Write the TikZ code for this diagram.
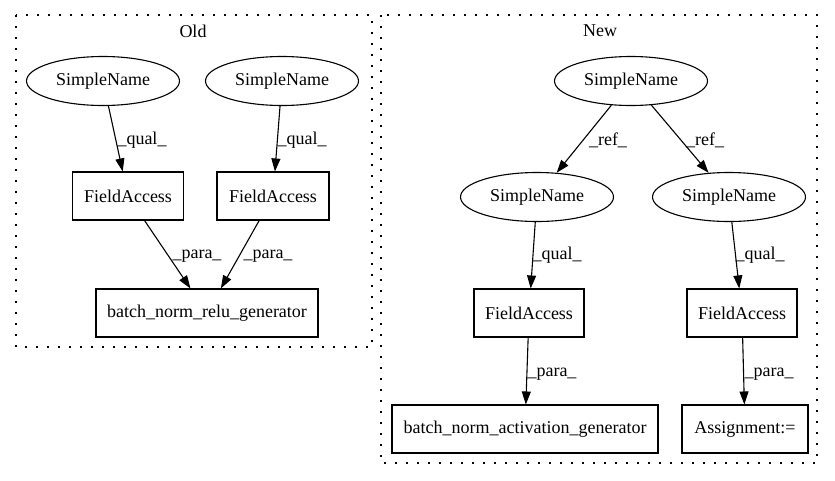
\documentclass[tikz,border=0pt]{standalone}
\usepackage{fontspec}
\setmainfont{Liberation Serif}
\usetikzlibrary{arrows.meta,shapes.geometric}
\begin{document}
\begin{tikzpicture}[x=1pt,y=-1pt,
  every node/.style={font=\fontsize{18}{21}\selectfont, inner sep=0pt},
  sname/.style={draw, ellipse, line width=1.1pt, minimum width=153pt, minimum height=49pt},
  box/.style={draw, rectangle, line width=1.1pt, minimum height=48pt},
  lbl/.style={},
  cluster/.style={line width=1.2pt, dash pattern=on 1.6pt off 9.4pt},
  link/.style={line width=1.1pt, -{Triangle[length=13pt,width=9pt]}}]
\useasboundingbox (0,0) rectangle (835,480);

% cluster frames
\draw[cluster] (16,15) rectangle (372,347);
\draw[cluster] (381,15) rectangle (817,463);
\node (oldtitle) at (193,31) {Old};
\node (newtitle) at (600,31) {New};

% Old
\node[sname] (osn1) at (103,81) {SimpleName};
\node[sname] (osn2) at (282,81) {SimpleName};
\node[box, minimum width=111pt] (ofa1) at (128,196) {FieldAccess};
\node[box, minimum width=112pt] (ofa2) at (273,196) {FieldAccess};
\node[box, minimum width=222pt] (obnr) at (207,313) {batch\_norm\_relu\_generator};

\draw[link] (osn1) -- (ofa1);
\draw[link] (osn2) -- (ofa2);
\draw[link] (ofa1) -- (obnr);
\draw[link] (ofa2) -- (obnr);
\node[lbl] (oq1) at (142,140) {\_qual\_};
\node[lbl] (oq2) at (302,140) {\_qual\_};
\node[lbl] (op1) at (197,256) {\_para\_};
\node[lbl] (op2) at (268,256) {\_para\_};

% New
\node[sname] (nsn0) at (631,81) {SimpleName};
\node[sname] (nsn1) at (537,197) {SimpleName};
\node[sname] (nsn2) at (729,197) {SimpleName};
\node[box, minimum width=110pt] (nfa1) at (529,313) {FieldAccess};
\node[box, minimum width=110pt] (nfa2) at (742,313) {FieldAccess};
\node[box, minimum width=266pt] (nbna) at (525,429) {batch\_norm\_activation\_generator};
\node[box, minimum width=126pt] (nasg) at (745,429) {Assignment:=};

\draw[link] (nsn0) -- (nsn1);
\draw[link] (nsn0) -- (nsn2);
\draw[link] (nsn1) -- (nfa1);
\draw[link] (nsn2) -- (nfa2);
\draw[link] (nfa1) -- (nbna);
\draw[link] (nfa2) -- (nasg);
\node[lbl] (nr1) at (608,140) {\_ref\_};
\node[lbl] (nr2) at (705,140) {\_ref\_};
\node[lbl] (nq1) at (557,255) {\_qual\_};
\node[lbl] (nq2) at (760,255) {\_qual\_};
\node[lbl] (np1) at (552,374) {\_para\_};
\node[lbl] (np2) at (769,374) {\_para\_};
\end{tikzpicture}
\end{document}
